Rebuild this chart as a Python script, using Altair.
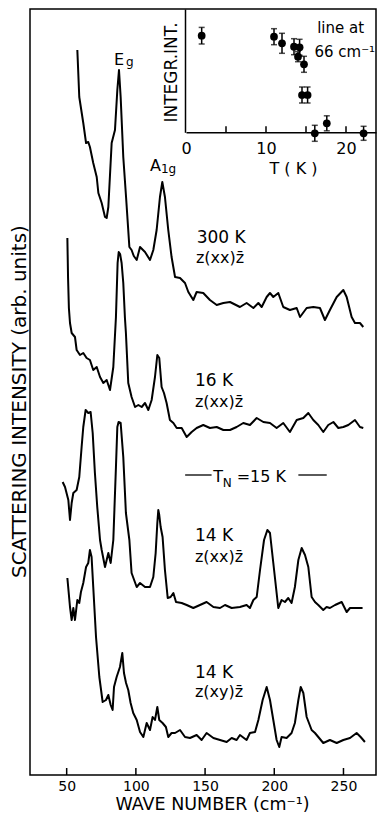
import altair as alt
import pandas as pd

FONT = "DejaVu Sans"

# ---------------- spectra (wave number cm^-1, intensity arb. units) ----------------
s300_x = [57.7, 59.1, 62.0, 64.0, 65.6, 66.8, 69.2, 71.7, 72.9, 75.3, 77.7, 78.9, 80.1, 82.5, 84.9, 86.6, 87.8, 89.0,
          90.9, 92.9, 95.3, 96.9, 98.5, 100.6, 103.0, 106.6, 110.2, 112.6, 115.0, 117.4, 119.1, 121.0, 123.4, 125.8,
          128.3, 131.9, 135.5, 137.9, 141.5, 143.9, 148.7, 153.5, 158.4, 163.2, 168.0, 175.2, 180.0, 184.9, 188.5,
          190.9, 194.5, 196.9, 199.3, 202.9, 206.5, 211.3, 216.2, 218.6, 223.4, 228.2, 233.0, 236.6, 240.2, 245.1,
          249.9, 252.3, 255.9, 258.3, 261.9, 264.3]
s300_y = [728, 681, 655, 635, 636, 631, 615, 601, 585, 575, 561, 560, 571, 635, 648, 688, 708, 681, 621, 581, 531, 528,
          522, 518, 531, 526, 518, 528, 548, 581, 596, 581, 548, 521, 501, 500, 495, 486, 478, 486, 485, 478, 473, 475,
          476, 471, 475, 470, 475, 471, 481, 485, 481, 485, 471, 468, 470, 461, 470, 471, 470, 458, 468, 481, 488, 481,
          461, 455, 455, 451]

s16_x = [50.5, 51.0, 51.6, 52.4, 53.6, 56.0, 57.2, 59.6, 62.0, 64.4, 66.8, 69.2, 71.7, 74.1, 76.5, 78.9, 81.3, 83.7,
         85.6, 86.8, 87.6, 88.6, 89.7, 90.9, 92.1, 92.8, 94.5, 96.9, 99.4, 101.8, 104.2, 106.6, 109.0, 111.4, 113.8,
         115.5, 116.9, 118.6, 120.3, 122.2, 124.6, 127.1, 129.5, 133.1, 136.7, 140.3, 143.9, 148.7, 153.5, 158.4,
         163.2, 168.0, 172.8, 177.6, 182.4, 187.3, 192.1, 196.9, 201.7, 206.5, 211.3, 216.2, 221.0, 224.6, 228.2,
         231.8, 235.4, 239.0, 242.7, 246.3, 249.9, 253.5, 258.3, 261.9, 264.3]
s16_y = [540, 500, 470, 455, 445, 441, 428, 423, 425, 420, 418, 408, 411, 401, 395, 398, 388, 411, 461, 515, 526, 524,
         515, 495, 460, 445, 395, 381, 371, 373, 371, 375, 368, 378, 401, 423, 420, 391, 385, 375, 358, 355, 350, 350,
         341, 346, 350, 353, 350, 351, 348, 348, 351, 355, 353, 360, 356, 355, 350, 355, 346, 358, 360, 365, 358, 353,
         346, 353, 356, 350, 351, 353, 358, 351, 350]

s14xx_x = [47.1, 48.8, 51.2, 52.4, 53.6, 54.8, 57.2, 59.1, 60.8, 62.0, 63.7, 65.6, 67.3, 68.8, 70.4, 72.1, 74.1, 75.3,
           77.7, 80.1, 81.8, 83.7, 85.6, 86.6, 87.5, 89.0, 90.9, 92.8, 95.3, 96.9, 100.6, 103.0, 106.6, 110.2, 112.6,
           114.3, 115.5, 116.2, 116.9, 117.9, 119.3, 121.0, 123.0, 125.1, 127.1, 129.0, 133.1, 136.7, 141.5, 146.3,
           151.1, 156.0, 160.8, 164.4, 169.2, 175.2, 180.0, 182.4, 184.9, 187.3, 189.7, 192.6, 195.0, 196.9, 199.3,
           202.9, 205.3, 207.7, 210.1, 212.5, 214.9, 217.4, 219.8, 222.2, 224.6, 227.0, 229.4, 231.8, 235.4, 237.8,
           240.2, 243.9, 248.7, 252.3, 254.7, 259.5, 263.8]
s14xx_y = [296, 291, 278, 258, 275, 285, 288, 301, 331, 351, 368, 365, 366, 345, 305, 271, 238, 228, 211, 225, 215, 238,
           311, 351, 356, 355, 321, 265, 238, 205, 191, 195, 191, 191, 201, 225, 255, 268, 263, 251, 241, 208, 180, 181,
           185, 176, 175, 173, 170, 173, 176, 171, 170, 173, 170, 171, 173, 170, 178, 181, 208, 238, 248, 245, 215, 170,
           178, 176, 180, 175, 191, 218, 230, 223, 211, 181, 176, 173, 168, 171, 170, 173, 176, 166, 170, 170, 170]

s14xy_x = [50.5, 52.4, 53.6, 54.8, 56.0, 57.7, 59.1, 60.3, 62.0, 64.0, 65.6, 66.8, 68.0, 69.2, 71.2, 73.6, 76.0, 78.4,
           80.1, 81.8, 83.2, 84.2, 86.1, 88.5, 90.2, 91.4, 92.9, 94.5, 96.2, 98.1, 100.6, 103.0, 105.4, 107.8, 110.2,
           112.1, 113.8, 115.5, 116.9, 119.3, 121.7, 123.4, 125.8, 128.3, 131.9, 135.5, 139.1, 143.9, 147.5, 151.1,
           156.0, 160.8, 165.6, 169.2, 172.8, 175.2, 180.0, 182.4, 186.1, 188.5, 191.6, 194.5, 196.9, 199.3, 201.7,
           203.6, 205.3, 208.9, 212.5, 214.9, 217.4, 219.1, 221.0, 223.4, 227.0, 229.4, 231.8, 235.4, 240.2, 245.1,
           249.9, 254.7, 259.5, 262.4, 265.5]
s14xy_y = [200, 171, 158, 170, 158, 178, 175, 186, 195, 211, 215, 228, 221, 191, 141, 101, 76, 78, 83, 73, 68, 91, 101,
           111, 125, 105, 95, 88, 75, 65, 58, 46, 41, 55, 48, 61, 58, 71, 58, 55, 51, 41, 45, 45, 48, 41, 40, 43, 38, 45,
           40, 38, 36, 40, 38, 43, 38, 45, 46, 58, 78, 91, 78, 58, 38, 31, 41, 40, 45, 55, 78, 91, 85, 61, 48, 45, 41,
           35, 38, 35, 38, 40, 45, 41, 36]

x_ticks = [50, 100, 150, 200, 250]

# ---------------- inset: integrated intensity of the 66 cm^-1 line ----------------
inset_T = [1.96, 11.0, 12.0, 13.5, 14.2, 14.0, 14.75, 14.5, 15.2, 16.1, 17.6, 22.2]
inset_v = [96.6, 95.6, 89.0, 85.6, 85.0, 75.6, 68.0, 37.3, 37.3, -1.0, 9.0, -1.0]
inset_err = [8.3, 8.0, 10.0, 8.0, 8.0, 5.0, 8.0, 8.0, 8.0, 8.0, 7.5, 7.0]
inset_ticks = [5, 10, 15, 20]

# ---------------- labels ----------------
temp_labels = ["300 K", "16 K", "14 K", "14 K"]
temp_wn = [143.9, 142.7, 142.7, 142.7]
temp_I = [535, 392, 237, 100]

pol_labels = ["z(xx)z\u0304", "z(xx)z\u0304", "z(xx)z\u0304", "z(xy)z\u0304"]
pol_wn = [143.4, 142.7, 142.7, 142.7]
pol_I = [515, 371, 216, 81]

# ---------------- build tables ----------------
rows = []
for name, xs, ys in [("300K", s300_x, s300_y), ("16K", s16_x, s16_y),
                     ("14Kxx", s14xx_x, s14xx_y), ("14Kxy", s14xy_x, s14xy_y)]:
    for a, b in zip(xs, ys):
        rows.append({"series": name, "wn": a, "I": b})
spec = pd.DataFrame(rows)

W, H = 346, 766
Y0 = 3  # intensity at the bottom frame
xsc = alt.Scale(domain=[23.5, 23.5 + W / 1.384], nice=False, zero=False)
ysc = alt.Scale(domain=[Y0, Y0 + H], nice=False, zero=False)

xenc = alt.X("wn:Q", scale=xsc,
             axis=alt.Axis(values=x_ticks, tickSize=0, domain=False, grid=False, labelFontSize=14,
                           labelPadding=4, labelFlush=False, title="WAVE NUMBER (cm\u207b\u00b9)",
                           titleFontSize=17.5, titleX=182, titleY=34.5, titleAlign="center",
                           titleBaseline="alphabetic"))
yenc = alt.Y("I:Q", scale=ysc,
             axis=alt.Axis(labels=False, ticks=False, domain=False, grid=False,
                           title="SCATTERING INTENSITY (arb. units)", titleFontSize=20,
                           titleX=-11, titleY=392, titleAngle=270, titleAlign="center",
                           titleBaseline="middle"))

lines = alt.Chart(spec).mark_line(color="black", strokeWidth=2, strokeJoin="round").encode(
    x=xenc, y=yenc, detail="series:N")

tick_df = pd.DataFrame({"wn": x_ticks, "I": [Y0] * len(x_ticks), "I2": [Y0 + 7] * len(x_ticks)})
xticks = alt.Chart(tick_df).mark_rule(color="black", strokeWidth=1.5).encode(x=xenc, y=yenc, y2="I2:Q")


def text_layer(labels, wns, Is, size, align="left"):
    df = pd.DataFrame({"t": labels, "wn": wns, "I": Is})
    return alt.Chart(df).mark_text(align=align, baseline="alphabetic", font=FONT, fontSize=size,
                                   color="black").encode(x=xenc, y=yenc, text="t:N")


t_temp = text_layer(temp_labels, temp_wn, temp_I, 17)
t_pol = text_layer(pol_labels, pol_wn, pol_I, 16)
t_peak = text_layer(["E", "A", "T", "=15 K"], [84.2, 110.2, 155.9, 172.8], [713, 607, 296.3, 296.3], 16)
t_sub = text_layer(["g", "1g", "N"], [92.9, 118.1, 162.7], [712, 605.3, 291.3], 12)
t_line = text_layer(["line at", "66 cm\u207b\u00b9"], [231.0, 229.0], [744.7, 721.3], 15)

dash_df = pd.DataFrame({"wn": [135.6, 217.4], "wn2": [154.7, 237.9], "I": [303, 303]})
dashes = alt.Chart(dash_df).mark_rule(color="black", strokeWidth=1.3).encode(x=xenc, x2="wn2:Q", y=yenc)

main = alt.layer(lines, xticks, dashes, t_temp, t_pol, t_peak, t_sub, t_line)

# ---------------- inset ----------------
isx = alt.Scale(domain=[0, 23.75], range=[156, 346], nice=False, zero=False)
isy = alt.Scale(domain=[0, 123.3], range=[123.3, 0], nice=False, zero=False)

ixenc = alt.X("T:Q", scale=isx,
              axis=alt.Axis(orient="bottom", offset=-(H - 123.3), values=[0, 10, 20], tickSize=0, grid=False,
                            labelFlush=False, labelFontSize=16, labelPadding=8, domainWidth=1.5,
                            title="T ( K )", titleFontSize=16, titleX=263, titleY=41,
                            titleAlign="center", titleBaseline="alphabetic"))
iyenc = alt.Y("v:Q", scale=isy,
              axis=alt.Axis(orient="left", offset=-155, labels=False, ticks=False, grid=False,
                            domainWidth=1.5, title="INTEGR.INT.", titleFontSize=17, titleX=-14,
                            titleY=63, titleAngle=270, titleAlign="center", titleBaseline="middle"))

pts_df = pd.DataFrame({"T": inset_T, "v": inset_v})
err_df = pd.DataFrame({"T": inset_T,
                       "v": [a - e for a, e in zip(inset_v, inset_err)],
                       "v2": [a + e for a, e in zip(inset_v, inset_err)]})
cap_df = pd.DataFrame({"T": inset_T + inset_T,
                       "v": [a - e for a, e in zip(inset_v, inset_err)] +
                            [a + e for a, e in zip(inset_v, inset_err)]})
itick_df = pd.DataFrame({"T": inset_ticks, "v": [0] * len(inset_ticks), "v2": [6] * len(inset_ticks)})

ipts = alt.Chart(pts_df).mark_circle(size=60, color="black", opacity=1).encode(x=ixenc, y=iyenc)
ierr = alt.Chart(err_df).mark_rule(color="black", strokeWidth=1.5).encode(x=ixenc, y=iyenc, y2="v2:Q")
icap = alt.Chart(cap_df).mark_tick(color="black", orient="horizontal", size=6, thickness=1.5).encode(
    x=ixenc, y=iyenc)
iticks = alt.Chart(itick_df).mark_rule(color="black", strokeWidth=1.5).encode(x=ixenc, y=iyenc, y2="v2:Q")

inset = alt.layer(iticks, ierr, icap, ipts)

chart = alt.layer(main, inset).resolve_scale(x="independent", y="independent").properties(
    width=W, height=H,
    padding={"left": 22, "top": 1, "right": 1, "bottom": 806 - 1 - H},
    autosize=alt.AutoSizeParams(type="none"),
    background="white",
).configure_view(stroke="black", strokeWidth=1.5).configure_axis(
    labelFont=FONT, titleFont=FONT, labelColor="black", titleColor="black", domainColor="black",
    titleFontWeight="normal")

chart.save("out.html", embed_options={"renderer": "svg", "actions": False})
